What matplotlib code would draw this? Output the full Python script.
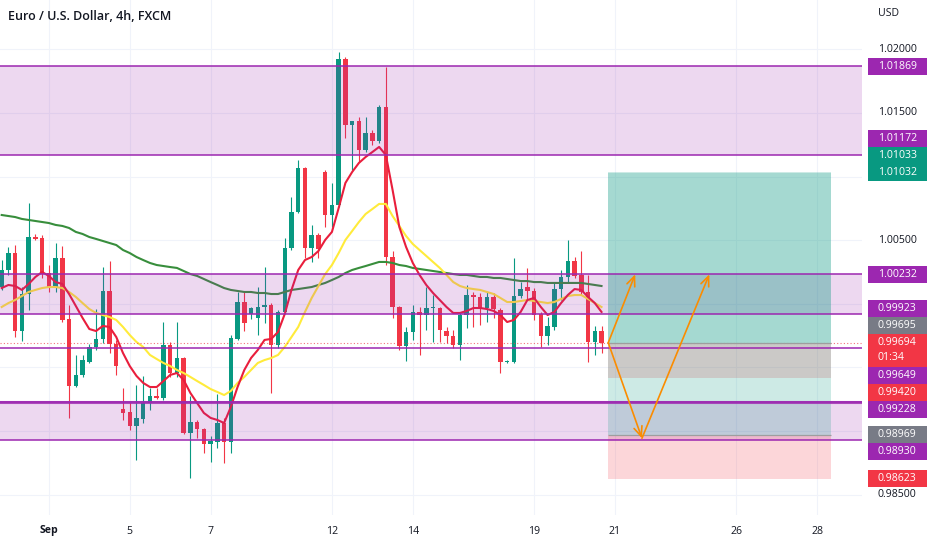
import matplotlib
matplotlib.use('Agg')
import matplotlib.pyplot as plt
from matplotlib.patches import Rectangle
from matplotlib.transforms import IdentityTransform, blended_transform_factory

plt.rcParams['font.family'] = ['Open Sans', 'DejaVu Sans']

# EUR/USD 4h bars, bar 0 = late Aug 31
opens = [1.00132, 1.00266, 1.00399, 0.99786, 1.00077, 1.00525, 1.00517, 1.00242, 1.00132, 1.00360,
         0.99881, 0.99354, 0.99441, 0.99543, 0.99661, 0.99724, 1.00101, 0.99684, 0.99173, 0.99150,
         0.99040, 0.99095, 0.99220, 0.99275, 0.99260, 0.99676, 0.99456, 0.99574, 0.98985, 0.99071,
         0.99016, 0.98898, 0.98914, 0.99063, 0.98914, 0.99724, 1.00014, 0.99920, 0.99889, 0.99975,
         0.99991, 0.99676, 0.99936, 1.00439, 1.00722, 1.01067, 1.00439, 1.00541, 1.01036, 1.00698,
         1.00777, 1.01924, 1.01406, 1.01437, 1.01209, 1.01343, 1.01280, 1.01547, 1.00368, 0.99975,
         0.99668, 0.99779, 0.99936, 0.99912, 0.99967, 0.99967, 0.99786, 0.99747, 0.99676, 0.99912,
         1.00069, 1.00054, 0.99967, 1.00054, 0.99951, 0.99543, 0.99543, 1.00061, 1.00132, 1.00101,
         0.99920, 0.99747, 0.99818, 1.00116, 1.00211, 1.00337, 1.00227, 1.00093, 0.99700, 0.99786]
highs = [1.00344, 1.00447, 1.00462, 1.00132, 1.00792, 1.00549, 1.00541, 1.00305, 1.00478, 1.00454,
         0.99991, 0.99598, 0.99598, 0.99684, 0.99959, 1.00289, 1.00337, 0.99716, 0.99338, 0.99228,
         0.99362, 0.99433, 0.99338, 0.99338, 0.99857, 0.99700, 0.99857, 0.99582, 0.99275, 0.99087,
         0.99024, 0.98961, 0.99291, 0.99103, 0.99755, 1.00093, 1.00093, 0.99975, 1.00132, 1.00289,
         1.00006, 0.99951, 1.00517, 1.00840, 1.01130, 1.01075, 1.00620, 1.00557, 1.01052, 1.00950,
         1.01979, 1.01940, 1.01440, 1.01468, 1.01468, 1.01366, 1.01563, 1.01861, 1.00415, 0.99980,
         0.99818, 0.99991, 0.99975, 1.00132, 1.00069, 0.99975, 0.99818, 0.99794, 0.99928, 1.00148,
         1.00093, 1.00085, 1.00093, 1.00085, 0.99967, 0.99558, 1.00360, 1.00171, 1.00282, 1.00124,
         0.99936, 0.99896, 1.00171, 1.00266, 1.00502, 1.00368, 1.00415, 1.00227, 0.99826, 0.99826]
lows = [1.00109, 1.00227, 0.99739, 0.99708, 0.99951, 1.00502, 1.00203, 1.00093, 1.00093, 0.99857,
        0.99103, 0.99346, 0.99425, 0.99535, 0.99637, 0.99692, 0.99613, 0.99441, 0.99087, 0.99008,
        0.98772, 0.99063, 0.99165, 0.99252, 0.99244, 0.99425, 0.99425, 0.98977, 0.98631, 0.98945,
        0.98827, 0.98757, 0.98867, 0.98749, 0.98827, 0.99716, 0.99786, 0.99881, 0.99755, 0.99849,
        0.99299, 0.99653, 0.99928, 1.00423, 1.00714, 1.00360, 1.00329, 1.00360, 1.00604, 1.00604,
        1.00761, 1.01303, 1.01052, 1.01115, 1.01193, 1.01248, 1.01264, 1.00305, 0.99889, 0.99637,
        0.99551, 0.99716, 0.99598, 0.99794, 0.99700, 0.99700, 0.99692, 0.99653, 0.99558, 0.99810,
        0.99818, 0.99834, 0.99857, 0.99889, 0.99456, 0.99535, 0.99535, 1.00046, 1.00030, 0.99873,
        0.99661, 0.99676, 0.99794, 1.00030, 1.00164, 1.00203, 1.00069, 0.99543, 0.99598, 0.99613]
closes = [1.00266, 1.00399, 0.99786, 1.00077, 1.00525, 1.00510, 1.00234, 1.00132, 1.00360, 0.99873,
          0.99354, 0.99441, 0.99558, 0.99661, 0.99724, 1.00101, 0.99684, 0.99511, 0.99142, 0.99040,
          0.99103, 0.99220, 0.99275, 0.99260, 0.99676, 0.99456, 0.99574, 0.98985, 0.99071, 0.99016,
          0.98898, 0.98922, 0.99063, 0.98914, 0.99731, 1.00014, 0.99849, 0.99967, 0.99975, 0.99991,
          0.99676, 0.99936, 1.00439, 1.00722, 1.01067, 1.00439, 1.00541, 1.00431, 1.00698, 1.00777,
          1.01924, 1.01406, 1.01437, 1.01209, 1.01343, 1.01280, 1.01547, 1.00368, 0.99975, 0.99668,
          0.99779, 0.99936, 0.99912, 0.99967, 0.99975, 0.99794, 0.99747, 0.99676, 0.99912, 1.00069,
          1.00054, 0.99967, 1.00054, 0.99959, 0.99543, 0.99551, 1.00061, 1.00116, 1.00101, 0.99912,
          0.99747, 0.99826, 1.00116, 1.00211, 1.00337, 1.00219, 1.00093, 0.99700, 0.99786, 0.99694]

# moving averages
ma_fast = [1.00124, 1.00148, 1.00140, 1.00109, 1.00156, 1.00211, 1.00250, 1.00219, 1.00171, 1.00156,
           1.00077, 0.99983, 0.99889, 0.99802, 0.99786, 0.99826, 0.99818, 0.99739, 0.99613, 0.99511,
           0.99433, 0.99378, 0.99346, 0.99346, 0.99393, 0.99441, 0.99456, 0.99401, 0.99299, 0.99220,
           0.99142, 0.99103, 0.99087, 0.99063, 0.99189, 0.99346, 0.99480, 0.99574, 0.99637, 0.99716,
           0.99724, 0.99779, 0.99920, 1.00109, 1.00266, 1.00344, 1.00368, 1.00415, 1.00502, 1.00565,
           1.00753, 1.00950, 1.01036, 1.01107, 1.01154, 1.01193, 1.01233, 1.01170, 1.00895, 1.00604,
           1.00447, 1.00321, 1.00227, 1.00148, 1.00085, 1.00030, 0.99975, 0.99928, 0.99928, 0.99944,
           0.99967, 0.99967, 0.99959, 0.99944, 0.99912, 0.99857, 0.99873, 0.99936, 1.00030, 1.00046,
           0.99975, 0.99912, 0.99936, 1.00006, 1.00069, 1.00116, 1.00109, 1.00054, 1.00006, 0.99936]
ma_mid = [0.99975, 1.00006, 1.00030, 1.00061, 1.00093, 1.00109, 1.00124, 1.00132, 1.00132, 1.00124,
          1.00093, 1.00054, 1.00006, 0.99959, 0.99928, 0.99912, 0.99896, 0.99873, 0.99818, 0.99755,
          0.99700, 0.99661, 0.99598, 0.99566, 0.99535, 0.99511, 0.99480, 0.99456, 0.99425, 0.99393,
          0.99362, 0.99330, 0.99307, 0.99283, 0.99315, 0.99378, 0.99425, 0.99480, 0.99535, 0.99558,
          0.99574, 0.99598, 0.99661, 0.99739, 0.99818, 0.99936, 1.00046, 1.00140, 1.00234, 1.00305,
          1.00399, 1.00502, 1.00572, 1.00643, 1.00706, 1.00745, 1.00785, 1.00785, 1.00690, 1.00612,
          1.00533, 1.00470, 1.00423, 1.00376, 1.00329, 1.00282, 1.00227, 1.00171, 1.00140, 1.00124,
          1.00116, 1.00109, 1.00093, 1.00077, 1.00046, 1.00014, 1.00014, 1.00022, 1.00030, 1.00022,
          1.00014, 1.00006, 1.00014, 1.00038, 1.00061, 1.00069, 1.00069, 1.00038, 1.00006, 0.99975]
ma_slow = [1.00698, 1.00690, 1.00682, 1.00667, 1.00659, 1.00651, 1.00643, 1.00635, 1.00620, 1.00612,
           1.00596, 1.00565, 1.00549, 1.00525, 1.00510, 1.00494, 1.00478, 1.00462, 1.00423, 1.00399,
           1.00368, 1.00344, 1.00321, 1.00305, 1.00297, 1.00289, 1.00282, 1.00258, 1.00234, 1.00219,
           1.00195, 1.00171, 1.00148, 1.00124, 1.00109, 1.00101, 1.00093, 1.00093, 1.00085, 1.00085,
           1.00077, 1.00077, 1.00093, 1.00109, 1.00116, 1.00124, 1.00132, 1.00148, 1.00164, 1.00187,
           1.00211, 1.00242, 1.00266, 1.00282, 1.00297, 1.00313, 1.00329, 1.00329, 1.00321, 1.00305,
           1.00297, 1.00282, 1.00274, 1.00266, 1.00258, 1.00250, 1.00242, 1.00234, 1.00227, 1.00227,
           1.00219, 1.00211, 1.00211, 1.00203, 1.00203, 1.00195, 1.00187, 1.00179, 1.00179, 1.00171,
           1.00171, 1.00164, 1.00164, 1.00164, 1.00164, 1.00164, 1.00164, 1.00156, 1.00148, 1.00140]

date_labels = ['Sep', '5', '7', '12', '14', '19', '21', '26', '28']
date_bars = [7, 19, 31, 49, 61, 79, 91, 109, 121]
price_ticks = [1.020, 1.015, 1.010, 1.005, 1.000, 0.995, 0.990, 0.985]

zones = [(1.01172, 1.01869), (0.99923, 1.00232), (0.98930, 0.99228)]
level_line = 0.99649

# long positions: entry, target, stop
positions = [(0.99695, 1.01033, 0.99420), (0.98969, 1.01032, 0.98623)]
pos_start, pos_end = 90, 123

last_price = 0.99694
countdown = '01:34'

path_up = [(90, 0.99694), (94, 1.00232)]
path_swing = [(90, 0.99694), (95, 0.98943), (105, 1.00232)]

GREEN = '#089981'
RED = '#f23645'
PURPLE = '#9c27b0'
GREY = '#787b86'
TXT = '#131722'
ORANGE = '#fb8c00'

W, H = 932, 550
fig = plt.figure(figsize=(W / 100, H / 100), dpi=100)
ax = fig.add_axes([0, 35 / H, 862 / W, 515 / H])
ax.set_xlim(-0.25, 127.65)
ax.set_ylim(0.98340, 1.02388)
ax.axis('off')

# grid
for p in price_ticks:
    ax.axhline(p, color='#f0f3fa', lw=0.8, zorder=0)
for b in date_bars:
    ax.axvline(b, color='#f0f3fa', lw=0.8, zorder=0)

# candles
for i in range(len(opens)):
    o, h, l, c = opens[i], highs[i], lows[i], closes[i]
    col = GREEN if c >= o else RED
    ax.vlines(i, l, h, color=col, lw=0.8, zorder=2)
    ax.bar(i, max(abs(c - o), 0.00008), bottom=min(o, c), width=0.66, color=col, lw=0, zorder=2)

x = list(range(len(opens)))
ax.plot(x, ma_slow, color='#388e3c', lw=1.5, zorder=3)
ax.plot(x, ma_mid, color='#ffeb3b', lw=1.5, zorder=3)
ax.plot(x, ma_fast, color='#e91e3c', lw=1.5, zorder=3)

ax.axhline(last_price, color=RED, lw=0.8, ls=(0, (1, 2)), alpha=0.7, zorder=3)

# support / resistance zones
for lo, hi in zones:
    ax.axhspan(lo, hi, color=PURPLE, alpha=0.18, lw=0, zorder=4)
    ax.axhline(lo, color=PURPLE, lw=1.1, zorder=5)
    ax.axhline(hi, color=PURPLE, lw=1.1, zorder=5)
ax.axhline(zones[2][1], color=PURPLE, lw=2.2, alpha=0.8, zorder=5)
ax.axhline(level_line, color=PURPLE, lw=1.1, zorder=5)

# position tools
for entry, target, stop in positions:
    ax.fill_between([pos_start, pos_end], entry, target, color=GREEN, alpha=0.2, lw=0, zorder=4)
    ax.fill_between([pos_start, pos_end], stop, entry, color=RED, alpha=0.2, lw=0, zorder=4)
    ax.hlines(entry, pos_start, pos_end, color='#9e9e9e', lw=0.9, zorder=5)

for path in (path_up, path_swing):
    for (x0, y0), (x1, y1) in zip(path[:-1], path[1:]):
        ax.annotate('', xy=(x1, y1), xytext=(x0, y0), zorder=6,
                    arrowprops=dict(arrowstyle='->,head_length=0.7,head_width=0.3',
                                    color=ORANGE, lw=1.2, shrinkA=0, shrinkB=0))

# title
fig.text(8 / W, 1 - 17 / H, 'Euro / U.S. Dollar, 4h, FXCM', fontsize=9, fontweight='semibold',
         color=TXT, ha='left', va='center')

# time axis
tr_time = blended_transform_factory(ax.transData, IdentityTransform())
for lab, b in zip(date_labels, date_bars):
    ax.text(b, H - 531, lab, transform=tr_time, fontsize=7.6, color=TXT, ha='center', va='center',
            fontweight='bold' if lab == 'Sep' else 'normal', clip_on=False)

# price axis labels with stacking
fig.canvas.draw()


def to_px(p):
    return ax.transData.transform((0, p))[1]


labels = []
for lo, hi in zones:
    labels.append([hi, PURPLE, None])
    labels.append([lo, PURPLE, None])
labels.append([level_line, PURPLE, None])
for entry, target, stop in positions:
    labels.append([target, GREEN, None])
    labels.append([entry, GREY, None])
    labels.append([stop, RED, None])
labels.append([last_price, RED, countdown])

hh = 8.5
anchor = labels[-1]
ay = to_px(anchor[0])
boxes = [(anchor, ay, ay + hh, ay + hh - 33)]
top = ay + hh
for lab in sorted([l for l in labels[:-1] if l[0] > anchor[0]], key=lambda l: l[0]):
    cy = max(to_px(lab[0]), top + hh)
    boxes.append((lab, cy, cy + hh, cy - hh))
    top = cy + hh
bottom = ay + hh - 33
for lab in sorted([l for l in labels[:-1] if l[0] < anchor[0]], key=lambda l: -l[0]):
    cy = min(to_px(lab[0]), bottom - hh)
    boxes.append((lab, cy, cy + hh, cy - hh))
    bottom = cy - hh

idt = IdentityTransform()
for lab, cy, btop, bbot in boxes:
    fig.add_artist(Rectangle((868, bbot), 59, btop - bbot, transform=idt, color=lab[1], lw=0))
    fig.text(878, cy, '%.5f' % lab[0], transform=idt, fontsize=7.6, color='white',
             ha='left', va='center')
    if lab[2]:
        fig.text(878, cy - 15, lab[2], transform=idt, fontsize=7.6, color='white',
                 ha='left', va='center')

for p in price_ticks:
    py = to_px(p)
    if any(bbot - 5 < py < btop + 5 for _, _, btop, bbot in boxes):
        continue
    fig.text(878, py, '%.5f' % p, transform=idt, fontsize=7.6, color=TXT, ha='left', va='center')

fig.text(878, H - 14, 'USD', transform=idt, fontsize=7.6, color=TXT, ha='left', va='center')

fig.savefig('out.png', dpi=100, facecolor='white')
